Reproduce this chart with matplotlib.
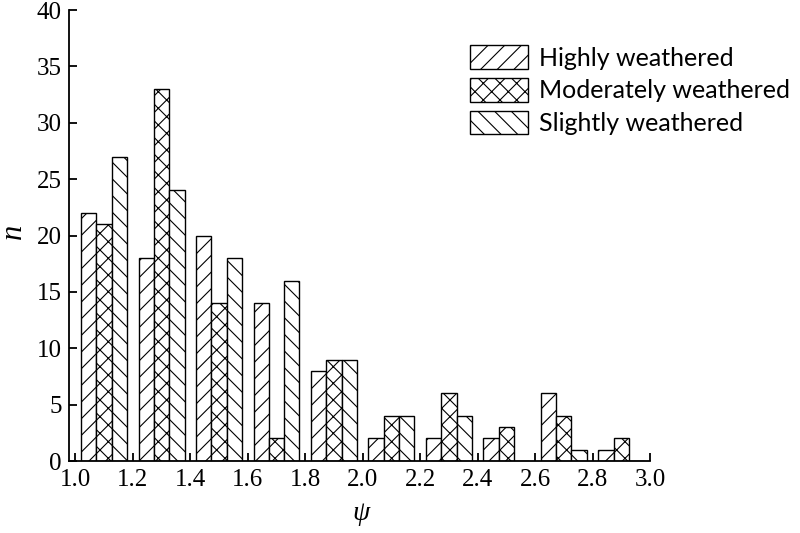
import matplotlib
matplotlib.use("Agg")
import matplotlib.pyplot as plt
import numpy as np

centers = [1.1, 1.3, 1.5, 1.7, 1.9, 2.1, 2.3, 2.5, 2.7, 2.9]
highly = [22, 18, 20, 14, 8, 2, 2, 2, 6, 1]
moderately = [21, 33, 14, 2, 9, 4, 6, 3, 4, 2]
slightly = [27, 24, 18, 16, 9, 4, 4, 0, 1, 0]
labels = ["Highly weathered", "Moderately weathered", "Slightly weathered"]
xticks = [1.0, 1.2, 1.4, 1.6, 1.8, 2.0, 2.2, 2.4, 2.6, 2.8, 3.0]
yticks = [0, 5, 10, 15, 20, 25, 30, 35, 40]

plt.rcParams['hatch.linewidth'] = 0.8
fig = plt.figure(figsize=(8, 5.33), dpi=100)
ax = fig.add_axes([0.086, 0.135, 0.7265, 0.846])

w = 0.16 / 3
c = np.array(centers)
series = [highly, moderately, slightly]
hatches = ['//', 'xx', '\\\\']
for i, (vals, h, lab) in enumerate(zip(series, hatches, labels)):
    ax.bar(c + (i - 1) * w, vals, width=w, facecolor='white', edgecolor='black',
           linewidth=1.0, hatch=h, label=lab)

ax.set_xlim(0.977, 3.0)
ax.set_ylim(0, 40)
ax.set_xticks(xticks)
ax.set_xticklabels([f"{t:.1f}" for t in xticks])
ax.set_yticks(yticks)
for s in ['top', 'right']:
    ax.spines[s].set_visible(False)
for s in ['left', 'bottom']:
    ax.spines[s].set_linewidth(1.3)
ax.tick_params(direction='in', length=6, width=1.3, labelsize=18)
ax.tick_params(axis='x', pad=6)
ax.tick_params(axis='y', pad=5)
for lbl in ax.get_xticklabels() + ax.get_yticklabels():
    lbl.set_fontfamily('Liberation Serif')

fig.text(361 / 800, 1 - 514 / 533, 'ψ', fontsize=20, fontstyle='italic',
         fontfamily='Liberation Serif', ha='center', va='center')
fig.text(13 / 800, 1 - 231 / 533, 'n', fontsize=22, fontstyle='italic',
         fontfamily='Liberation Serif', ha='center', va='center', rotation=90)

leg = fig.legend(loc='upper left', bbox_to_anchor=(0.5875, 0.915), frameon=False,
                 prop={'family': 'Lato', 'size': 18}, handlelength=2.32, handleheight=1.08,
                 labelspacing=0.33, handletextpad=0.45, borderaxespad=0, borderpad=0)

fig.savefig('out.png', dpi=100)
